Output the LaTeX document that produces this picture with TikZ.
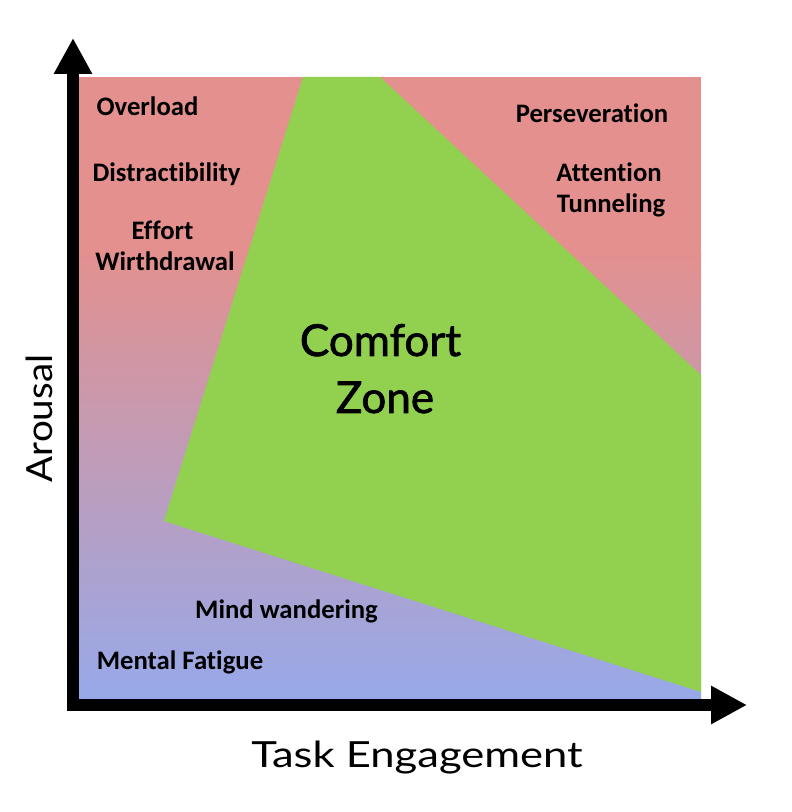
\documentclass[tikz,border=0pt]{standalone}
\usepackage{fontspec}
\setmainfont{Carlito}[Ligatures={NoCommon}]
\newfontfamily\geofont{Lato}
\newfontfamily\geowide{Lato}[FakeStretch=1.21]
\newfontfamily\geomid{Lato}[FakeStretch=1.07]
\newfontfamily\geoheavy{Lato}[FakeBold=1.6]
\usetikzlibrary{arrows.meta}
\definecolor{zonegreen}{HTML}{92D050}
\definecolor{hipink}{HTML}{E3908E}
\definecolor{loblue}{HTML}{97A9E9}
\tikzset{
  lbl/.style={font=\fontsize{26.7}{32}\selectfont\bfseries, anchor=base, inner sep=0pt, text=black},
  axislbl/.style={font=\fontsize{36}{40}\selectfont, anchor=base, inner sep=0pt},
  zonelbl/.style={font=\geoheavy\fontsize{44}{50}\selectfont, anchor=base, inner sep=0pt},
  axisline/.style={line width=12pt, line join=miter,
    {Triangle[length=36pt,width=36pt]}-{Triangle[length=36pt,width=36pt]}}
}
\begin{document}
\begin{tikzpicture}[x=1pt,y=1pt]
\useasboundingbox (0,0) rectangle (792,812);
% background regions
\fill[hipink] (79,560) rectangle (701,735);
\shade[top color=hipink, bottom color=loblue, shading=axis] (79,113) rectangle (701,560.5);
\fill[zonegreen] (303,735) -- (380,735) -- (701,437) -- (701,120) -- (164,291) -- cycle;
% axes
\coordinate (O) at (73,107);
\coordinate (ytip) at (73,774);
\coordinate (xtip) at (747,107);
\draw[axisline] (ytip) -- (O) -- (xtip);
% labels
\node[lbl] (overload) at (147.5,696) {Overload};
\node[lbl] (distr) at (166.5,630) {Distractibility};
\node[lbl] (effort) at (162.5,572) {Effort};
\node[lbl] (withdr) at (165,541) {Wirthdrawal};
\node[lbl] (persev) at (592,689) {Perseveration};
\node[lbl] (attn) at (609,630) {Attention};
\node[lbl] (tunnel) at (611,599) {Tunneling};
\node[lbl] (mind) at (286.5,193) {Mind wandering};
\node[lbl] (fatigue) at (180,142) {Mental Fatigue};
\node[zonelbl] (comfort) at (380.5,456) {Comfort};
\node[zonelbl] (zone) at (385,399) {Zone};
\node[axislbl, font=\geowide\fontsize{36}{40}\selectfont] (task) at (417,45) {Task Engagement};
\node[axislbl, font=\geomid\fontsize{36}{40}\selectfont, rotate=90] (arousal) at (52,393.5) {Arousal};
\end{tikzpicture}
\end{document}
